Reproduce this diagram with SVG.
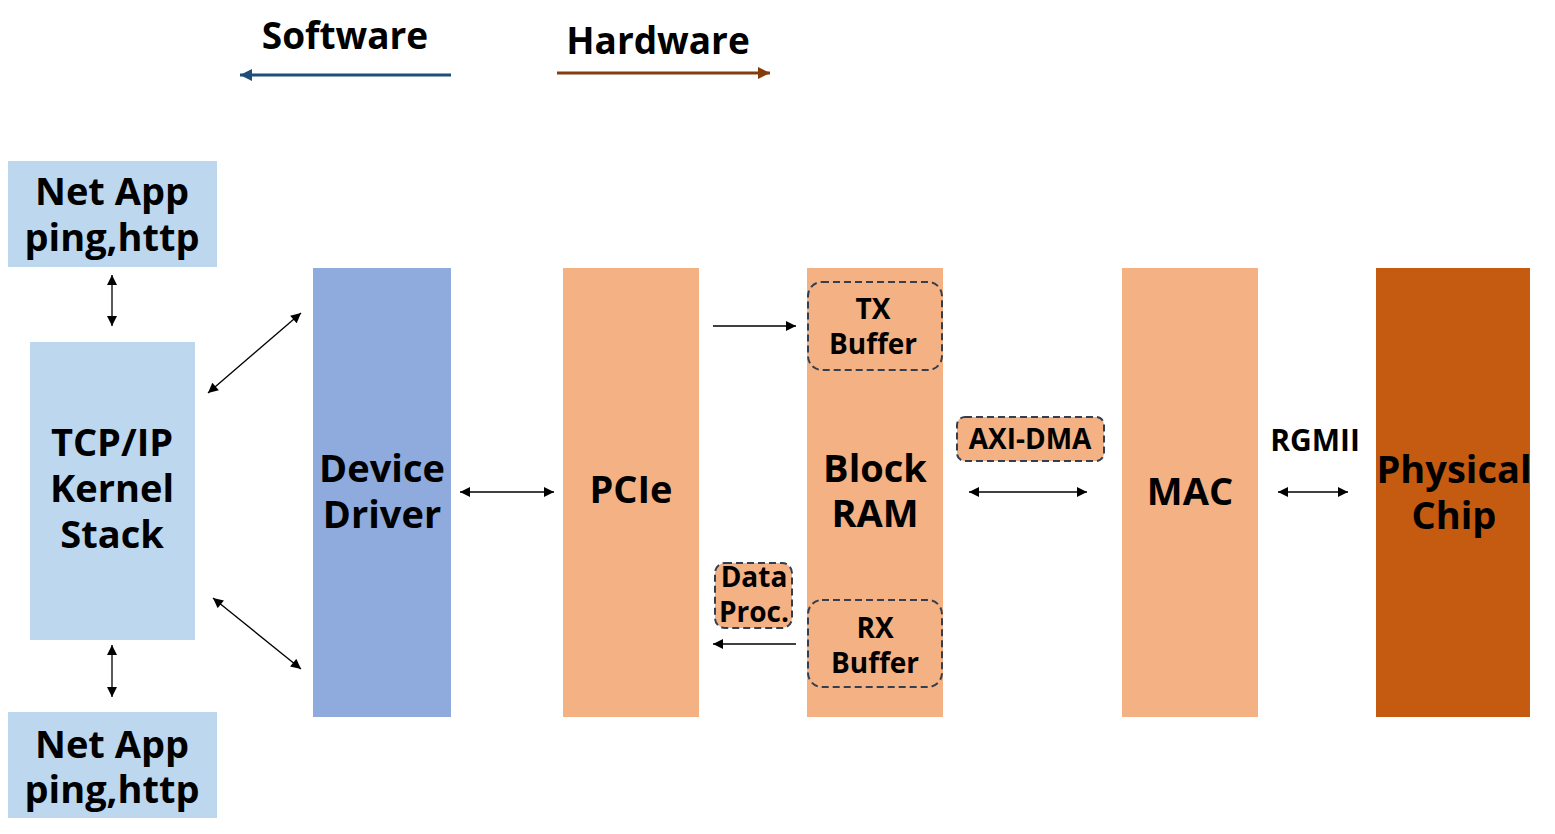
<svg xmlns="http://www.w3.org/2000/svg" width="1555" height="834" viewBox="0 0 1555 834">
<style>
text{font-family:"Open Sans","Noto Sans","DejaVu Sans",sans-serif;font-weight:bold;fill:#000;text-anchor:middle}
.big{font-size:38px}
.mid{font-size:28px}
.lt{fill:#BDD7EE}
.or{fill:#F4B183}
.dash{fill:#F4B183;stroke:#333F50;stroke-width:2;stroke-dasharray:7,4}
.c{stroke:#000;stroke-width:1.3;fill:none;marker-start:url(#a);marker-end:url(#a)}
.c1{stroke:#000;stroke-width:1.3;fill:none;marker-end:url(#a)}
</style>
<defs>
<marker id="a" viewBox="0 0 10 10" refX="10" refY="5" markerWidth="11" markerHeight="10" markerUnits="userSpaceOnUse" orient="auto-start-reverse"><path d="M0,0L10,5L0,10z" fill="#000"/></marker>
<marker id="sw" viewBox="0 0 10 10" refX="10" refY="5" markerWidth="12" markerHeight="12" markerUnits="userSpaceOnUse" orient="auto"><path d="M0,0L10,5L0,10z" fill="#1F4E79"/></marker>
<marker id="hw" viewBox="0 0 10 10" refX="10" refY="5" markerWidth="12" markerHeight="12" markerUnits="userSpaceOnUse" orient="auto"><path d="M0,0L10,5L0,10z" fill="#843C0C"/></marker>
</defs>
<g id="legend">
<text x="345" y="49" style="font-size:37px">Software</text>
<text x="658" y="54" style="font-size:37px">Hardware</text>
<line x1="451" y1="75" x2="240" y2="75" stroke="#1F4E79" stroke-width="3" marker-end="url(#sw)"/>
<line x1="557" y1="73" x2="770" y2="73" stroke="#843C0C" stroke-width="3" marker-end="url(#hw)"/>
</g>
<g id="netapp1"><rect class="lt" x="8" y="161" width="209" height="106"/><text class="big" x="112" y="205">Net App</text><text class="big" x="112" y="251">ping,http</text></g>
<g id="tcpip"><rect class="lt" x="30" y="342" width="165" height="298"/><text class="big" x="112" y="456">TCP/IP</text><text class="big" x="112" y="502">Kernel</text><text class="big" x="112" y="548">Stack</text></g>
<g id="netapp2"><rect class="lt" x="8" y="712" width="209" height="106"/><text class="big" x="112" y="758">Net App</text><text class="big" x="112" y="803">ping,http</text></g>
<g id="driver"><rect x="313" y="268" width="138" height="449" fill="#8FAADC"/><text class="big" x="382" y="482">Device</text><text class="big" x="382" y="528">Driver</text></g>
<g id="pcie"><rect class="or" x="563" y="268" width="136" height="449"/><text class="big" x="631" y="503">PCIe</text></g>
<g id="bram"><rect class="or" x="807" y="268" width="136" height="449"/><text class="big" x="875" y="482">Block</text><text class="big" x="875" y="527">RAM</text></g>
<g id="txbuf"><rect class="dash" x="808" y="282" width="134" height="88" rx="14"/><text class="mid" x="873" y="319">TX</text><text class="mid" x="873" y="354">Buffer</text></g>
<g id="rxbuf"><rect class="dash" x="808" y="600" width="134" height="87" rx="14"/><text class="mid" x="875" y="638">RX</text><text class="mid" x="875" y="673">Buffer</text></g>
<g id="dataproc"><rect class="dash" x="715" y="563" width="77" height="65" rx="10"/><text class="mid" x="754" y="587">Data</text><text class="mid" x="754" y="622">Proc.</text></g>
<g id="axidma"><rect class="dash" x="957" y="417" width="147" height="44" rx="8"/><text class="mid" x="1030" y="449">AXI-DMA</text></g>
<g id="mac"><rect class="or" x="1122" y="268" width="136" height="449"/><text class="big" x="1190" y="505">MAC</text></g>
<g id="rgmii"><text x="1315" y="451" style="font-size:30px">RGMII</text></g>
<g id="phy"><rect x="1376" y="268" width="154" height="449" fill="#C55A11"/><text class="big" x="1454" y="483">Physical</text><text class="big" x="1454" y="529">Chip</text></g>
<g id="connectors">
<line class="c" x1="112" y1="275" x2="112" y2="326"/>
<line class="c" x1="208" y1="393" x2="301" y2="313"/>
<line class="c" x1="213" y1="598" x2="301" y2="669"/>
<line class="c" x1="112" y1="645" x2="112" y2="697"/>
<line class="c" x1="460" y1="492" x2="554" y2="492"/>
<line class="c1" x1="713" y1="326" x2="796" y2="326"/>
<line class="c1" x1="796" y1="644" x2="713" y2="644"/>
<line class="c" x1="969" y1="492" x2="1087" y2="492"/>
<line class="c" x1="1278" y1="492" x2="1348" y2="492"/>
</g>
</svg>
